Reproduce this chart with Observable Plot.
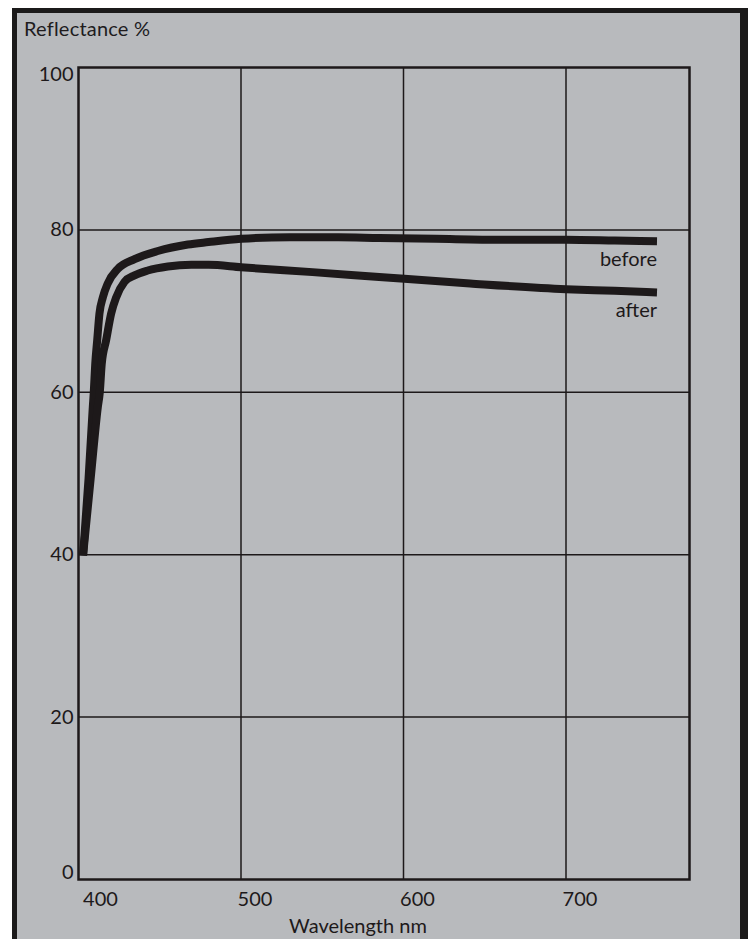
<!DOCTYPE html>
<html>
<head>
<meta charset="utf-8">
<script src="https://cdn.jsdelivr.net/npm/d3@7"></script>
<script src="https://cdn.jsdelivr.net/npm/@observablehq/plot@0.6"></script>
<style>
  html, body { margin: 0; padding: 0; background: #ffffff; overflow: hidden; }
  #page { position: relative; width: 748px; height: 939px; overflow: hidden; }
  #card { position: absolute; left: 12px; top: 8px; width: 736px; height: 945px; box-sizing: border-box;
          border: 5px solid #1b1a1a; border-right-width: 8px; background: #b8babd; }
  #title { position: absolute; left: 24px; top: 18px; font-family: Lato, "Open Sans", sans-serif;
           font-size: 20px; line-height: 20px; color: #201c1d; letter-spacing: 0.2px; }
  #chart { position: absolute; left: 0; top: 0; }
</style>
</head>
<body>
<div id="page">
  <div id="card"></div>
  <div id="title">Reflectance %</div>
  <div id="chart"></div>
</div>
<script>
// Wavelength (nm) and reflectance (%)
const wavelengthBefore = [402.8, 406.2, 408.8, 409.4, 410.3, 411.5, 412.9, 415.0, 418.0, 424.2, 434.5, 448.8, 467.3, 480, 500, 530, 560, 585, 620, 660, 700, 730, 756];
const reflectanceBefore = [39.9, 49.4, 58.2, 60.0, 63.5, 66.4, 69.7, 71.7, 73.4, 75.2, 76.4, 77.4, 78.2, 78.5, 78.9, 79.1, 79.1, 79.0, 78.9, 78.8, 78.8, 78.7, 78.6];

const wavelengthAfter = [402.8, 407.5, 411.9, 413.1, 414.3, 417.0, 420.1, 423.2, 428.3, 434.5, 442.6, 455.0, 469.4, 480, 500, 544, 585, 641, 700, 730, 756];
const reflectanceAfter = [39.9, 49.4, 58.2, 60.0, 63.5, 66.4, 69.7, 71.7, 73.6, 74.4, 75.0, 75.5, 75.7, 75.7, 75.4, 74.8, 74.2, 73.4, 72.7, 72.5, 72.3];

const seriesNames = ["before", "after"];
const xTicks = [400, 500, 600, 700];
const yTicks = [0, 20, 40, 60, 80, 100];
const xLabel = "Wavelength nm";

const data = [
  ...wavelengthBefore.map((w, i) => ({series: seriesNames[0], w, r: reflectanceBefore[i]})),
  ...wavelengthAfter.map((w, i) => ({series: seriesNames[1], w, r: reflectanceAfter[i]}))
];
const lastPoints = seriesNames.map(s => {
  const pts = data.filter(d => d.series === s);
  return pts[pts.length - 1];
});

const ink = "#1d191a";
const font = "Lato, 'Open Sans', sans-serif";

const chart = Plot.plot({
  width: 748,
  height: 939,
  marginTop: 67,
  marginBottom: 60,
  marginLeft: 78,
  marginRight: 59,
  style: {background: "transparent", fontFamily: font, color: ink, overflow: "visible"},
  x: {domain: [400, 776]},
  y: {domain: [0, 100]},
  marks: [
    Plot.gridY(yTicks.slice(1, -1), {stroke: ink, strokeOpacity: 1, strokeWidth: 1.5}),
    Plot.gridX(xTicks.slice(1), {stroke: ink, strokeOpacity: 1, strokeWidth: 1.5}),
    Plot.frame({stroke: ink, strokeWidth: 2.5}),
    Plot.line(data, {x: "w", y: "r", z: "series", stroke: ink, strokeWidth: 8, curve: "monotone-x", strokeLinecap: "butt", strokeLinejoin: "round"}),
    Plot.text(lastPoints, {x: "w", y: "r", text: "series", textAnchor: "end", lineAnchor: "bottom", dy: 25, fontSize: 20, fill: ink}),
    Plot.axisY(yTicks.slice(1, -1), {tickSize: 0, tickPadding: 5, fontSize: 20, label: null}),
    Plot.axisY(yTicks.slice(0, 1), {tickSize: 0, tickPadding: 5, fontSize: 20, dy: -7, label: null}),
    Plot.axisY(yTicks.slice(-1), {tickSize: 0, tickPadding: 5, fontSize: 20, dy: 7, label: null}),
    Plot.axisX(xTicks.slice(1), {tickSize: 0, tickPadding: 12, dx: 14, fontSize: 20, label: null}),
    Plot.axisX(xTicks.slice(0, 1), {tickSize: 0, tickPadding: 12, dx: 22, fontSize: 20, label: null}),
    Plot.text([xLabel], {frameAnchor: "bottom", lineAnchor: "top", dx: -26, dy: 39, fontSize: 20, fill: ink})
  ]
});
document.getElementById("chart").appendChild(chart);
</script>
</body>
</html>
